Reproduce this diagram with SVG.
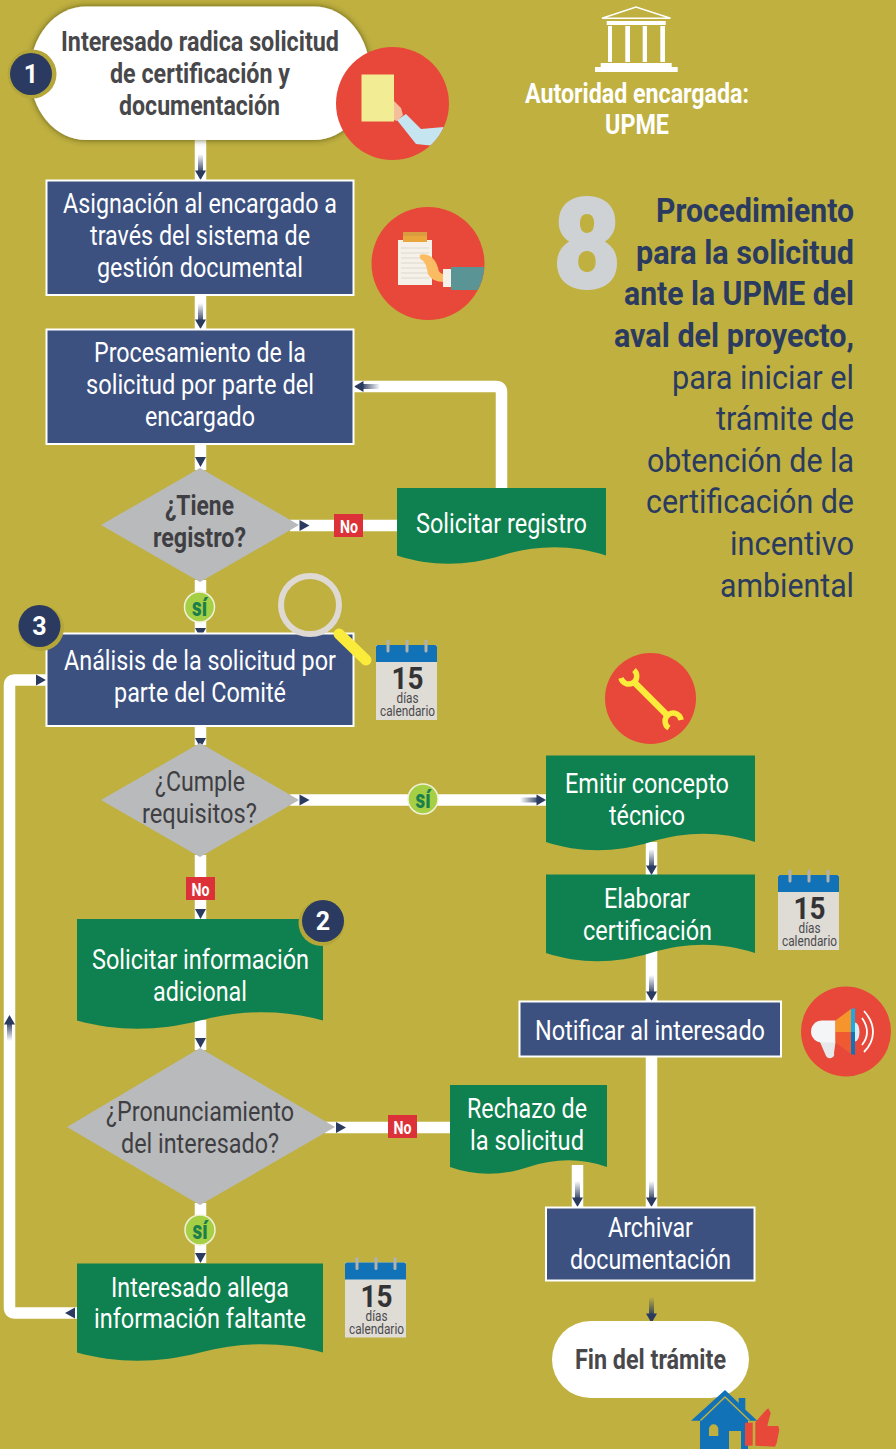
<svg xmlns="http://www.w3.org/2000/svg" width="896" height="1449" viewBox="0 0 896 1449">
<style>
text{font-family:Roboto,"Liberation Sans",sans-serif;font-size:27.500px}
.w{fill:#fff}.bd{font-weight:700}
.dk{fill:#48484b;font-weight:700;font-size:28px}
.dq{fill:#3f3f43}
.blue{fill:#3c517f;stroke:#fff;stroke-width:2}
.green{fill:#0f804f}
.dia{fill:#b9babc}
.red{fill:#e8483a}
.no{fill:#dc3139}
.not{fill:#fff;font-weight:700;font-size:19px}
.si{fill:#a5cf45;stroke:#f1f1d8;stroke-width:1.5}
.sit{fill:#1c7f4b;font-weight:900;font-size:26px}
.pipe{fill:none;stroke:#fff;stroke-width:11.5;stroke-linejoin:round}
.badge{fill:#2a3a60}.ring{fill:#b5a63a}
.bn{fill:#fff;font-weight:700;font-size:25px}
.navy{fill:#2b3b5f}
.tb{fill:#2b3b5f;font-weight:700;font-size:34px}
.tr{fill:#2b3b5f;font-size:34px}
.cal{fill:#333336;font-weight:700;font-size:31px}
.cs{fill:#4a4a4d;font-size:14.500px}
</style>
<defs>
<linearGradient id="fade" x1="0" y1="0" x2="0" y2="1"><stop offset="0" stop-color="#2b3b5f" stop-opacity="0"/><stop offset="1" stop-color="#2b3b5f"/></linearGradient>
<g id="head"><path class="navy" d="M-5.500-10H5.500L0 0Z"/></g>
<g id="long"><rect x="-2.500" y="-26" width="5" height="19" fill="url(#fade)"/><path class="navy" d="M-5.500-9.500H5.500L0 0Z"/></g>
<filter id="shadow" x="-10%" y="-15%" width="120%" height="130%"><feDropShadow dx="0" dy="0" stdDeviation="3" flood-color="#3d3a10" flood-opacity=".75"/></filter>
<clipPath id="c1"><circle cx="392.500" cy="103.500" r="56.500"/></clipPath>
<clipPath id="c2"><circle cx="428" cy="263.500" r="56.500"/></clipPath>
</defs>
<rect width="896" height="1449" fill="#bfb040"/>

<g id="connectors">
<path class="pipe" d="M200.500 140V180"/>
<path class="pipe" d="M200.500 295V329"/>
<path class="pipe" d="M200.500 444V470"/>
<path class="pipe" d="M200.500 580V633"/>
<path class="pipe" d="M200.500 726V745"/>
<path class="pipe" d="M200.500 855V919"/>
<path class="pipe" d="M200.500 1020V1050"/>
<path class="pipe" d="M200.500 1203V1263"/>
<path class="pipe" d="M290 525.500H397"/>
<path class="pipe" d="M501.500 488V392Q501.500 386.500 496 386.500H354"/>
<path class="pipe" d="M290 800H546"/>
<path class="pipe" d="M325 1127.500H450"/>
<path class="pipe" d="M651.500 842V875"/>
<path class="pipe" d="M651.500 950V1001"/>
<path class="pipe" d="M651.500 1056V1207"/>
<path class="pipe" d="M577.500 1165V1207"/>
<path class="pipe" d="M77 1313H15Q9.500 1313 9.500 1307.500V685.500Q9.500 680 15 680H46"/>
<use href="#long" x="200.500" y="180"/>
<use href="#long" x="200.500" y="329"/>
<use href="#head" x="200.500" y="467"/>
<use href="#head" x="200.500" y="638"/>
<use href="#head" x="200.500" y="748"/>
<use href="#head" x="200.500" y="919"/>
<use href="#head" x="200.500" y="1048"/>
<use href="#head" x="200.500" y="1263"/>
<use href="#head" transform="translate(309.500 525.500) rotate(-90)"/>
<use href="#head" transform="translate(309.500 800) rotate(-90)"/>
<use href="#head" transform="translate(346 1127.500) rotate(-90)"/>
<use href="#head" transform="translate(46 680) rotate(-90)"/>
<use href="#head" transform="translate(65 1313) rotate(90)"/>
<use href="#long" transform="translate(354 386.500) rotate(90)"/>
<use href="#long" transform="translate(546 800) rotate(-90)"/>
<use href="#long" transform="translate(9.500 1015) rotate(180)"/>
<use href="#long" x="651.500" y="875"/>
<use href="#long" x="651.500" y="1001"/>
<use href="#long" x="651.500" y="1207"/>
<use href="#long" x="577.500" y="1207"/>
<use href="#long" x="651.500" y="1323"/>
</g>

<g id="n-inicio">
<rect x="30" y="6.500" width="340" height="133.500" rx="56" ry="66.750" fill="#fff" filter="url(#shadow)"/>
<text class="dk" x="61" y="51" textLength="278" lengthAdjust="spacingAndGlyphs">Interesado radica solicitud</text>
<text class="dk" x="110" y="83" textLength="180" lengthAdjust="spacingAndGlyphs">de certificación y</text>
<text class="dk" x="119" y="115" textLength="161" lengthAdjust="spacingAndGlyphs">documentación</text>
<circle class="ring" cx="32" cy="74" r="24.500"/>
<circle class="badge" cx="31" cy="74" r="21"/>
<text class="bn" x="31" y="83" text-anchor="middle">1</text>
</g>
<g id="icon-doc">
<circle class="red" cx="392.500" cy="103.500" r="56.500"/>
<g clip-path="url(#c1)">
<path d="M397 120L406 114L421 129L444 127L435 146L416 144Z" fill="#c5e6f0"/>
<path d="M394 101L401 108L403 115L397 121L394 120Z" fill="#f4bf9b"/>
</g>
<rect x="361.500" y="74.500" width="32.500" height="47" fill="#f2ec94"/>
</g>

<g id="n-asignacion">
<rect class="blue" x="46.500" y="180.500" width="307" height="114.500"/>
<text class="w" x="63" y="213" textLength="274" lengthAdjust="spacingAndGlyphs">Asignación al encargado a</text>
<text class="w" x="90" y="245" textLength="220" lengthAdjust="spacingAndGlyphs">través del sistema de</text>
<text class="w" x="97" y="277" textLength="206" lengthAdjust="spacingAndGlyphs">gestión documental</text>
</g>
<g id="icon-clip">
<circle class="red" cx="428" cy="263.500" r="56.500"/>
<g clip-path="url(#c2)">
<rect x="398" y="240" width="34" height="45" fill="#f5f1e9"/>
<rect x="403" y="232" width="24" height="5" fill="#d99c3e"/><rect x="403" y="236" width="24" height="6" fill="#e8a63c"/>
<path d="M401 248h28M401 253h28M401 258h28M401 263h28M401 268h28M401 273h28M401 278h28" stroke="#dcd9ce" stroke-width="1"/>
<path d="M420 255Q424 253 430 256Q436 260 438 268Q439 274 444 274V282Q432 282 428 274Q426 262 422 260Q419 259 420 255Z" fill="#fbbb63"/>
<rect x="443" y="269" width="8" height="18" fill="#f5f1e9"/>
<path d="M451 267H485L481 290H451Z" fill="#5b9495"/>
</g>
</g>

<g id="n-procesamiento">
<rect class="blue" x="46.500" y="329.500" width="307" height="114.500"/>
<text class="w" x="94" y="362" textLength="212" lengthAdjust="spacingAndGlyphs">Procesamiento de la</text>
<text class="w" x="86" y="394" textLength="228" lengthAdjust="spacingAndGlyphs">solicitud por parte del</text>
<text class="w" x="145" y="426" textLength="110" lengthAdjust="spacingAndGlyphs">encargado</text>
</g>

<g id="n-tiene">
<path class="dia" d="M101 525L200 468L299 525L200 582Z"/>
<text class="dq bd" x="165" y="515" textLength="69" lengthAdjust="spacingAndGlyphs">¿Tiene</text>
<text class="dq bd" x="153" y="547" textLength="93" lengthAdjust="spacingAndGlyphs">registro?</text>
</g>
<g id="l-no1">
<rect class="no" x="334" y="514" width="29" height="23"/>
<text class="not" x="340" y="532.500" textLength="18" lengthAdjust="spacingAndGlyphs">No</text>
</g>
<g id="n-solreg">
<path class="green" d="M397 488H606V555.500C572.600 544.500 537 544.500 501.500 555.500C466 566.500 430.400 566.500 397 555.500Z"/>
<text class="w" x="416" y="532.500" textLength="171" lengthAdjust="spacingAndGlyphs">Solicitar registro</text>
</g>
<g id="l-si1">
<circle class="si" cx="199.500" cy="607" r="15"/>
<text class="sit" x="192" y="616" textLength="15" lengthAdjust="spacingAndGlyphs">sí</text>
</g>

<g id="n-analisis">
<rect class="blue" x="46.500" y="633.500" width="307" height="92.500"/>
<text class="w" x="64" y="670" textLength="272" lengthAdjust="spacingAndGlyphs">Análisis de la solicitud por</text>
<text class="w" x="114" y="702" textLength="172" lengthAdjust="spacingAndGlyphs">parte del Comité</text>
<circle class="ring" cx="41" cy="628" r="23"/>
<circle class="badge" cx="39.500" cy="626" r="21"/>
<text class="bn" x="39.500" y="635" text-anchor="middle">3</text>
</g>
<g id="icon-lupa">
<circle cx="310" cy="605" r="29" fill="none" stroke="#dedad3" stroke-width="6"/>
<path d="M339 634L366 660" stroke="#fbeb3a" stroke-width="11" stroke-linecap="round"/>
</g>
<g id="cal-1" transform="translate(376 645)">
<rect width="61" height="75" fill="#dfdbd5"/><path d="M0 17V2Q0 0 2 0H59Q61 0 61 2V17Z" fill="#1272b8"/>
<path d="M12-4V6M31-4V6M50-4V6" stroke="#b1b1ad" stroke-width="3" stroke-linecap="round"/>
<text class="cal" x="31.500" y="44" text-anchor="middle" textLength="32" lengthAdjust="spacingAndGlyphs">15</text>
<text class="cs" x="31.500" y="58" text-anchor="middle" textLength="22" lengthAdjust="spacingAndGlyphs">días</text>
<text class="cs" x="31.500" y="71" text-anchor="middle" textLength="55" lengthAdjust="spacingAndGlyphs">calendario</text>
</g>

<g id="n-cumple">
<path class="dia" d="M101 800L200 743L299 800L200 857Z"/>
<text class="dq" x="155" y="791" textLength="90" lengthAdjust="spacingAndGlyphs">¿Cumple</text>
<text class="dq" x="142" y="823" textLength="115" lengthAdjust="spacingAndGlyphs">requisitos?</text>
</g>
<g id="l-si2">
<circle class="si" cx="423" cy="799" r="15"/>
<text class="sit" x="415.500" y="808" textLength="15" lengthAdjust="spacingAndGlyphs">sí</text>
</g>
<g id="l-no2">
<rect class="no" x="186" y="877" width="29" height="23"/>
<text class="not" x="191.500" y="895.500" textLength="18" lengthAdjust="spacingAndGlyphs">No</text>
</g>

<g id="icon-llave">
<circle class="red" cx="650.500" cy="698.500" r="45.500"/>
<path d="M634 682L667 715" stroke="#fbeb3a" stroke-width="6.500" fill="none"/>
<path d="M621 678A8 8 0 1 0 634 670M681 720A8 8 0 1 0 669 728" stroke="#fbeb3a" stroke-width="5.500" fill="none"/>
</g>
<g id="n-emitir">
<path class="green" d="M546 755.500H755V842C721.600 831 686 831 650.500 842C615 853 579.400 853 546 842Z"/>
<text class="w" x="565" y="793" textLength="164" lengthAdjust="spacingAndGlyphs">Emitir concepto</text>
<text class="w" x="609" y="825" textLength="76" lengthAdjust="spacingAndGlyphs">técnico</text>
</g>
<g id="n-elaborar">
<path class="green" d="M546 874.500H755V953C721.600 942 686 942 650.500 953C615 964 579.400 964 546 953Z"/>
<text class="w" x="604" y="908" textLength="86" lengthAdjust="spacingAndGlyphs">Elaborar</text>
<text class="w" x="583" y="940" textLength="129" lengthAdjust="spacingAndGlyphs">certificación</text>
</g>
<g id="cal-2" transform="translate(778 875)">
<rect width="61" height="75" fill="#dfdbd5"/><path d="M0 17V2Q0 0 2 0H59Q61 0 61 2V17Z" fill="#1272b8"/>
<path d="M12-4V6M31-4V6M50-4V6" stroke="#b1b1ad" stroke-width="3" stroke-linecap="round"/>
<text class="cal" x="31.500" y="44" text-anchor="middle" textLength="32" lengthAdjust="spacingAndGlyphs">15</text>
<text class="cs" x="31.500" y="58" text-anchor="middle" textLength="22" lengthAdjust="spacingAndGlyphs">días</text>
<text class="cs" x="31.500" y="71" text-anchor="middle" textLength="55" lengthAdjust="spacingAndGlyphs">calendario</text>
</g>

<g id="n-solinfo">
<path class="green" d="M77 919H323V1020.500C283.600 1009.500 241.800 1009.500 200 1020.500C158.200 1031.500 116.400 1031.500 77 1020.500Z"/>
<text class="w" x="92" y="969" textLength="217" lengthAdjust="spacingAndGlyphs">Solicitar información</text>
<text class="w" x="153" y="1001" textLength="94" lengthAdjust="spacingAndGlyphs">adicional</text>
<circle class="ring" cx="321.500" cy="923" r="23"/>
<circle class="badge" cx="323" cy="921" r="21"/>
<text class="bn" x="323" y="930" text-anchor="middle">2</text>
</g>

<g id="n-notificar">
<rect class="blue" x="519.500" y="1001.500" width="261.500" height="55"/>
<text class="w" x="535" y="1040" textLength="230" lengthAdjust="spacingAndGlyphs">Notificar al interesado</text>
</g>
<g id="icon-mega">
<circle class="red" cx="846" cy="1031.500" r="45"/>
<path d="M835.500 1042L820 1042L826 1056Q828 1059 831 1058Q835 1057 834 1053Z" fill="#e7e8ea"/>
<path d="M822 1020.500H835.500V1042.500H822A11 11 0 0 1 822 1020.500Z" fill="#f4f5f7"/>
<ellipse cx="855" cy="1032" rx="4.500" ry="9.500" fill="#d5eef7"/>
<path d="M835.500 1020.500L851 1009V1032H835.500Z" fill="#f7952d"/>
<path d="M835.500 1032H851V1054L835.500 1042.500Z" fill="#ef5a33"/>
<path d="M851 1009L855 1008V1032H851Z" fill="#1fa9e0"/>
<path d="M851 1032H855V1055L851 1054Z" fill="#1272b8"/>
<path d="M864 1011Q873 1021 873 1032Q873 1043 864 1052M862 1018Q867 1025 867 1032Q867 1039 862 1045" fill="none" stroke="#fff" stroke-width="1.800"/>
</g>

<g id="n-pronun">
<path class="dia" d="M67 1127L200 1048L335 1127L200 1205Z"/>
<text class="dq" x="106" y="1120.500" textLength="188" lengthAdjust="spacingAndGlyphs">¿Pronunciamiento</text>
<text class="dq" x="121" y="1152.500" textLength="158" lengthAdjust="spacingAndGlyphs">del interesado?</text>
</g>
<g id="l-no3">
<rect class="no" x="388" y="1115" width="29" height="23"/>
<text class="not" x="393.500" y="1133.500" textLength="18" lengthAdjust="spacingAndGlyphs">No</text>
</g>
<g id="n-rechazo">
<path class="green" d="M450 1085H607V1167C581.900 1158 555.200 1158 528.500 1167C501.800 1176 475.100 1176 450 1167Z"/>
<text class="w" x="467" y="1118" textLength="120" lengthAdjust="spacingAndGlyphs">Rechazo de</text>
<text class="w" x="470" y="1150" textLength="114" lengthAdjust="spacingAndGlyphs">la solicitud</text>
</g>
<g id="l-si3">
<circle class="si" cx="200" cy="1230" r="15"/>
<text class="sit" x="192.500" y="1239" textLength="15" lengthAdjust="spacingAndGlyphs">sí</text>
</g>
<g id="n-allega">
<path class="green" d="M77 1263.500H323V1352.500C283.600 1341.500 241.800 1341.500 200 1352.500C158.200 1363.500 116.400 1363.500 77 1352.500Z"/>
<text class="w" x="111" y="1296.500" textLength="178" lengthAdjust="spacingAndGlyphs">Interesado allega</text>
<text class="w" x="94" y="1328" textLength="212" lengthAdjust="spacingAndGlyphs">información faltante</text>
</g>
<g id="cal-3" transform="translate(345 1262.500)">
<rect width="61" height="75" fill="#dfdbd5"/><path d="M0 17V2Q0 0 2 0H59Q61 0 61 2V17Z" fill="#1272b8"/>
<path d="M12-4V6M31-4V6M50-4V6" stroke="#b1b1ad" stroke-width="3" stroke-linecap="round"/>
<text class="cal" x="31.500" y="44" text-anchor="middle" textLength="32" lengthAdjust="spacingAndGlyphs">15</text>
<text class="cs" x="31.500" y="58" text-anchor="middle" textLength="22" lengthAdjust="spacingAndGlyphs">días</text>
<text class="cs" x="31.500" y="71" text-anchor="middle" textLength="55" lengthAdjust="spacingAndGlyphs">calendario</text>
</g>

<g id="n-archivar">
<rect class="blue" x="546" y="1207.500" width="208.500" height="73"/>
<text class="w" x="608" y="1237" textLength="85" lengthAdjust="spacingAndGlyphs">Archivar</text>
<text class="w" x="570" y="1269" textLength="161" lengthAdjust="spacingAndGlyphs">documentación</text>
</g>
<g id="n-fin">
<rect x="552" y="1321" width="197" height="77" rx="38.500" fill="#fff"/>
<text class="dk" x="575" y="1369" textLength="151" lengthAdjust="spacingAndGlyphs">Fin del trámite</text>
</g>
<g id="icon-casa">
<path d="M725 1390L738.700 1403V1398H745.300V1409.500L757.300 1420.700H748V1449H700V1420.700H691Z" fill="#1272b8"/>
<path d="M700.500 1420.500L725 1397L749.500 1420.500" fill="none" stroke="#bfb040" stroke-width="1.500"/>
<path d="M709 1436V1429A4.600 4.600 0 0 1 718.300 1429V1436Z" fill="#bfb040"/>
<rect x="729" y="1431" width="12" height="18" fill="#bfb040"/>
<rect x="745" y="1422.700" width="7.700" height="23" fill="#e8483a"/>
<path d="M755.300 1422.300L766 1410L768.300 1408.300L770.700 1413L767.300 1426H778.300L779.300 1430L776.700 1443L775 1446.700L755.300 1445.700Z" fill="#e8483a"/>
</g>

<g id="autoridad">
<path d="M602 18.300L636 7L670.500 18.300Z" fill="none" stroke="#fff" stroke-width="1.500"/>
<path fill="#fff" d="M606.700 21H665.700V25H606.700ZM608 26H612V62H608ZM625.300 26H630V62H625.300ZM642.700 26H647V62H642.700ZM660.300 26H665V62H660.300ZM600.700 63H671.700V67H600.700ZM595 67H677.700V72H595Z"/>
<text class="w bd" x="525" y="103" textLength="224" lengthAdjust="spacingAndGlyphs">Autoridad encargada:</text>
<text class="w bd" x="605" y="134" textLength="64" lengthAdjust="spacingAndGlyphs">UPME</text>
</g>

<g id="titulo">
<text x="553" y="288" textLength="68" lengthAdjust="spacingAndGlyphs" fill="#cfd2d4" stroke="#cfd2d4" stroke-width="2" font-weight="900" style="font-size:127px">8</text>
<text class="tb" x="656" y="222" textLength="198" lengthAdjust="spacingAndGlyphs">Procedimiento</text>
<text class="tb" x="636" y="264" textLength="218" lengthAdjust="spacingAndGlyphs">para la solicitud</text>
<text class="tb" x="624" y="305" textLength="230" lengthAdjust="spacingAndGlyphs">ante la UPME del</text>
<text class="tb" x="614" y="347" textLength="240" lengthAdjust="spacingAndGlyphs">aval del proyecto,</text>
<text class="tr" x="672" y="389" textLength="182" lengthAdjust="spacingAndGlyphs">para iniciar el</text>
<text class="tr" x="716" y="430" textLength="138" lengthAdjust="spacingAndGlyphs">trámite de</text>
<text class="tr" x="647" y="472" textLength="207" lengthAdjust="spacingAndGlyphs">obtención de la</text>
<text class="tr" x="646" y="513" textLength="208" lengthAdjust="spacingAndGlyphs">certificación de</text>
<text class="tr" x="730" y="555" textLength="124" lengthAdjust="spacingAndGlyphs">incentivo</text>
<text class="tr" x="720" y="597" textLength="134" lengthAdjust="spacingAndGlyphs">ambiental</text>
</g>
</svg>
